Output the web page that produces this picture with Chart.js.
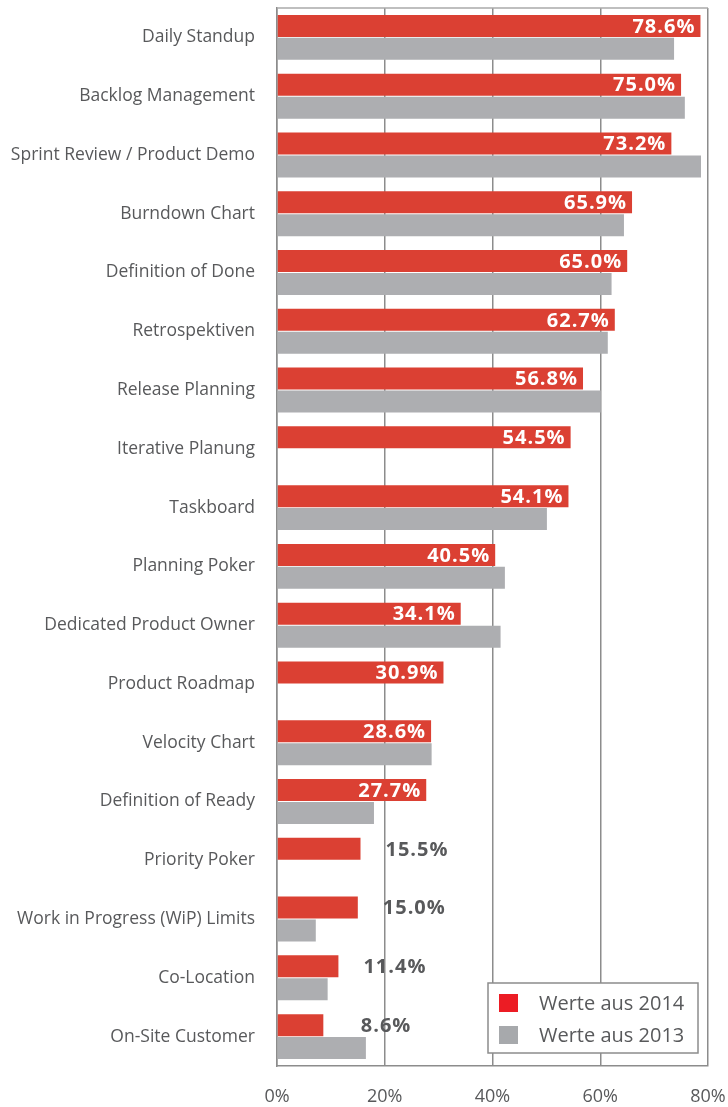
<!DOCTYPE html>
<html>
<head>
<meta charset="utf-8">
<script src="https://cdn.jsdelivr.net/npm/chart.js@4.4.1/dist/chart.umd.min.js"></script>
<style>
  html, body { margin: 0; padding: 0; background: #fff; }
  #wrap { width: 728px; height: 1107px; position: relative; }
</style>
</head>
<body>
<div id="wrap"><canvas id="chart"></canvas></div>
<script>
// categories (top to bottom)
const categories = [
  'Daily Standup', 'Backlog Management', 'Sprint Review / Product Demo',
  'Burndown Chart', 'Definition of Done', 'Retrospektiven', 'Release Planning',
  'Iterative Planung', 'Taskboard', 'Planning Poker', 'Dedicated Product Owner',
  'Product Roadmap', 'Velocity Chart', 'Definition of Ready', 'Priority Poker',
  'Work in Progress (WiP) Limits', 'Co-Location', 'On-Site Customer'
];

// values in percent
const values2014 = [78.6, 75.0, 73.2, 65.9, 65.0, 62.7, 56.8, 54.5, 54.1, 40.5, 34.1, 30.9, 28.6, 27.7, 15.5, 15.0, 11.4, 8.6];
const values2013 = [73.7, 75.7, 78.7, 64.4, 62.1, 61.4, 60.1, null, 50.1, 42.3, 41.5, null, 28.7, 18.0, null, 7.2, 9.4, 16.5];

const seriesLabels = ['Werte aus 2014', 'Werte aus 2013'];
const xTicks = [0, 20, 40, 60, 80];

const FONT = '"Open Sans", "DejaVu Sans", sans-serif';
const TEXT = '#58595b';
const GRID = '#8c8c8c';

// value labels on the red bars
const valueLabels = {
  id: 'valueLabels',
  afterDatasetsDraw(chart) {
    const ctx = chart.ctx;
    const meta = chart.getDatasetMeta(0);
    ctx.save();
    ctx.font = 'bold 20px ' + FONT;
    ctx.letterSpacing = '1px';
    ctx.textAlign = 'right';
    ctx.textBaseline = 'middle';
    meta.data.forEach((bar, i) => {
      const v = values2014[i];
      const txt = v.toFixed(1) + '%';
      if (v >= 20) {
        ctx.fillStyle = '#ffffff';
        ctx.fillText(txt, bar.x - 5, bar.y + 1);
      } else {
        ctx.fillStyle = TEXT;
        ctx.fillText(txt, bar.x + 88, bar.y + 1);
      }
    });
    ctx.restore();
  }
};

// top frame line + boxed legend in lower right
const frameAndLegend = {
  id: 'frameAndLegend',
  afterDraw(chart) {
    const ctx = chart.ctx;
    const a = chart.chartArea;
    ctx.save();
    ctx.strokeStyle = '#aaaaaa';
    ctx.lineWidth = 1.5;
    ctx.beginPath();
    ctx.moveTo(a.left, a.top);
    ctx.lineTo(a.right, a.top);
    ctx.stroke();

    const bx = 488, by = 983, bw = 210, bh = 70;
    ctx.fillStyle = '#ffffff';
    ctx.fillRect(bx, by, bw, bh);
    ctx.strokeStyle = '#8c8c8c';
    ctx.lineWidth = 1.5;
    ctx.strokeRect(bx, by, bw, bh);

    const swatches = ['#ec1c24', '#a7a9ac'];
    ctx.font = '20px ' + FONT;
    ctx.textBaseline = 'middle';
    ctx.textAlign = 'left';
    seriesLabels.forEach((lab, i) => {
      const y = by + 11 + i * 32;
      ctx.fillStyle = swatches[i];
      ctx.fillRect(bx + 11, y, 19, 18);
      ctx.fillStyle = TEXT;
      ctx.fillText(lab, bx + 51, y + 10);
    });
    ctx.restore();
  }
};

new Chart(document.getElementById('chart'), {
  type: 'bar',
  data: {
    labels: categories,
    datasets: [
      {
        label: seriesLabels[0],
        data: values2014,
        backgroundColor: '#db4033',
        barPercentage: 0.96,
        categoryPercentage: 0.78
      },
      {
        label: seriesLabels[1],
        data: values2013,
        backgroundColor: '#adaeb1',
        barPercentage: 0.96,
        categoryPercentage: 0.78
      }
    ]
  },
  options: {
    indexAxis: 'y',
    responsive: true,
    maintainAspectRatio: false,
    animation: false,
    layout: { padding: { top: 8, right: 20, left: 0, bottom: 0 } },
    plugins: {
      legend: { display: false },
      tooltip: { enabled: false }
    },
    scales: {
      x: {
        min: 0,
        max: 80,
        afterBuildTicks: s => { s.ticks = xTicks.map(v => ({ value: v })); },
        afterFit: s => { s.height = 41; s.paddingLeft = 0; s.paddingRight = 0; },
        grid: { color: GRID, lineWidth: 1.5, drawTicks: false },
        border: { color: GRID, width: 1.5 },
        ticks: {
          padding: 20,
          color: TEXT,
          font: { family: FONT, size: 18 },
          callback: v => v + '%'
        }
      },
      y: {
        afterFit: s => { s.width = 277; s.paddingTop = 0; s.paddingBottom = 0; },
        grid: { display: false, drawTicks: false },
        border: { color: GRID, width: 1.5 },
        ticks: {
          padding: 22,
          color: TEXT,
          font: { family: FONT, size: 17.5 }
        }
      }
    }
  },
  plugins: [valueLabels, frameAndLegend]
});
</script>
</body>
</html>
